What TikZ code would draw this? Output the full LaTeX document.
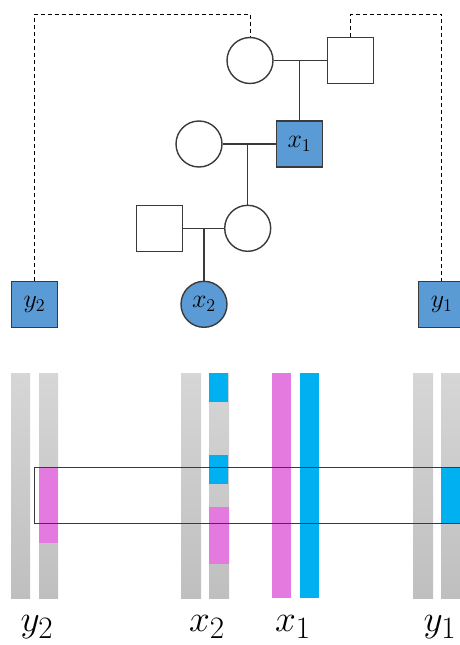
\documentclass[tikz,border=0pt]{standalone}
\definecolor{pblue}{HTML}{5B9BD5}
\definecolor{edge}{HTML}{3A3A3A}
\definecolor{cyanbar}{HTML}{00B0F0}
\definecolor{magbar}{HTML}{E479E0}
\definecolor{graytop}{HTML}{D6D6D6}
\definecolor{graybot}{HTML}{BFBFBF}
\begin{document}
\begin{tikzpicture}[x=1pt,y=-1pt,
  line/.style={draw=edge, line width=1.4pt},
  dline/.style={draw=black, line width=0.9pt, dash pattern=on 4pt off 3pt},
  fem/.style={circle, draw=edge, line width=1.4pt, minimum size=46pt, inner sep=0pt, fill=white},
  mal/.style={rectangle, draw=edge, line width=1.4pt, minimum size=46pt, inner sep=0pt, fill=white},
  aff/.style={fill=pblue},
  lab/.style={font=\huge},
  blab/.style={font=\Huge, scale=1.5},
  graybar/.style={top color=graytop, bottom color=graybot, draw=none},
  box/.style={draw=edge, line width=1.4pt}
]
\useasboundingbox (0,0) rectangle (460,645);
\clip (0,0) rectangle (460,645);
% pedigree
\node[fem] (gm) at (250,60.5) {};
\node[mal] (gf) at (350.5,60.5) {};
\node[mal,aff] (x1) at (299.5,144) {};
\node[fem] (m) at (199,144) {};
\node[fem] (d) at (247.7,228.3) {};
\node[mal] (h) at (159.7,228.3) {};
\node[fem,aff] (x2) at (204,304.3) {};
\node[mal,aff] (y2) at (34.5,304.5) {};
\node[mal,aff] (y1) at (441.7,304.5) {};
\node[lab, scale=1.25] (tx1) at (x1) {$x_1$};
\node[lab, scale=1.25] (tx2) at (x2) {$x_2$};
\node[lab, scale=1.25] (ty2) at (y2) {$y_2$};
\node[lab, scale=1.25] (ty1) at (y1) {$y_1$};
\coordinate (c1) at (299.5,60.5);
\coordinate (c2) at (247.7,144);
\coordinate (c3) at (204,228.3);
\draw[line] (gm) -- (gf);
\draw[line] (c1) -- (x1);
\draw[line] (m) -- (x1);
\draw[line] (c2) -- (d);
\draw[line] (h) -- (d);
\draw[line] (c3) -- (x2);
\coordinate (t) at (0,14);
\draw[dline] (y2.north) -- (y2.north |- t) -| (gm.north);
\draw[dline] (gf.north) -- (gf.north |- t) -| (y1.north);
% chromosomes
\fill[graybar] (11,373) rectangle (30,598.7);
\fill[graybar] (39,373) rectangle (58,598.7);
\fill[magbar] (39,467.3) rectangle (58,542.7);
\fill[graybar] (181,373) rectangle (201,598.7);
\fill[graybar] (209,373) rectangle (229,598.7);
\fill[cyanbar] (209,373) rectangle (228,402);
\fill[cyanbar] (209,455) rectangle (228,484);
\fill[magbar] (209,507) rectangle (229,563.7);
\fill[magbar] (272,373) rectangle (291,597.7);
\fill[cyanbar] (300,373) rectangle (319,597.7);
\fill[graybar] (413,373) rectangle (433,598.7);
\fill[graybar] (441,373) rectangle (462,598.7);
\fill[cyanbar] (441,467.3) rectangle (462,524);
\draw[box] (34.3,467.3) rectangle (470,523.7);
\node[blab] (ly2) at (37,627) {$y_2$};
\node[blab] (lx2) at (207,627) {$x_2$};
\node[blab] (lx1) at (293,627) {$x_1$};
\node[blab] (ly1) at (440,627) {$y_1$};
\end{tikzpicture}
\end{document}
